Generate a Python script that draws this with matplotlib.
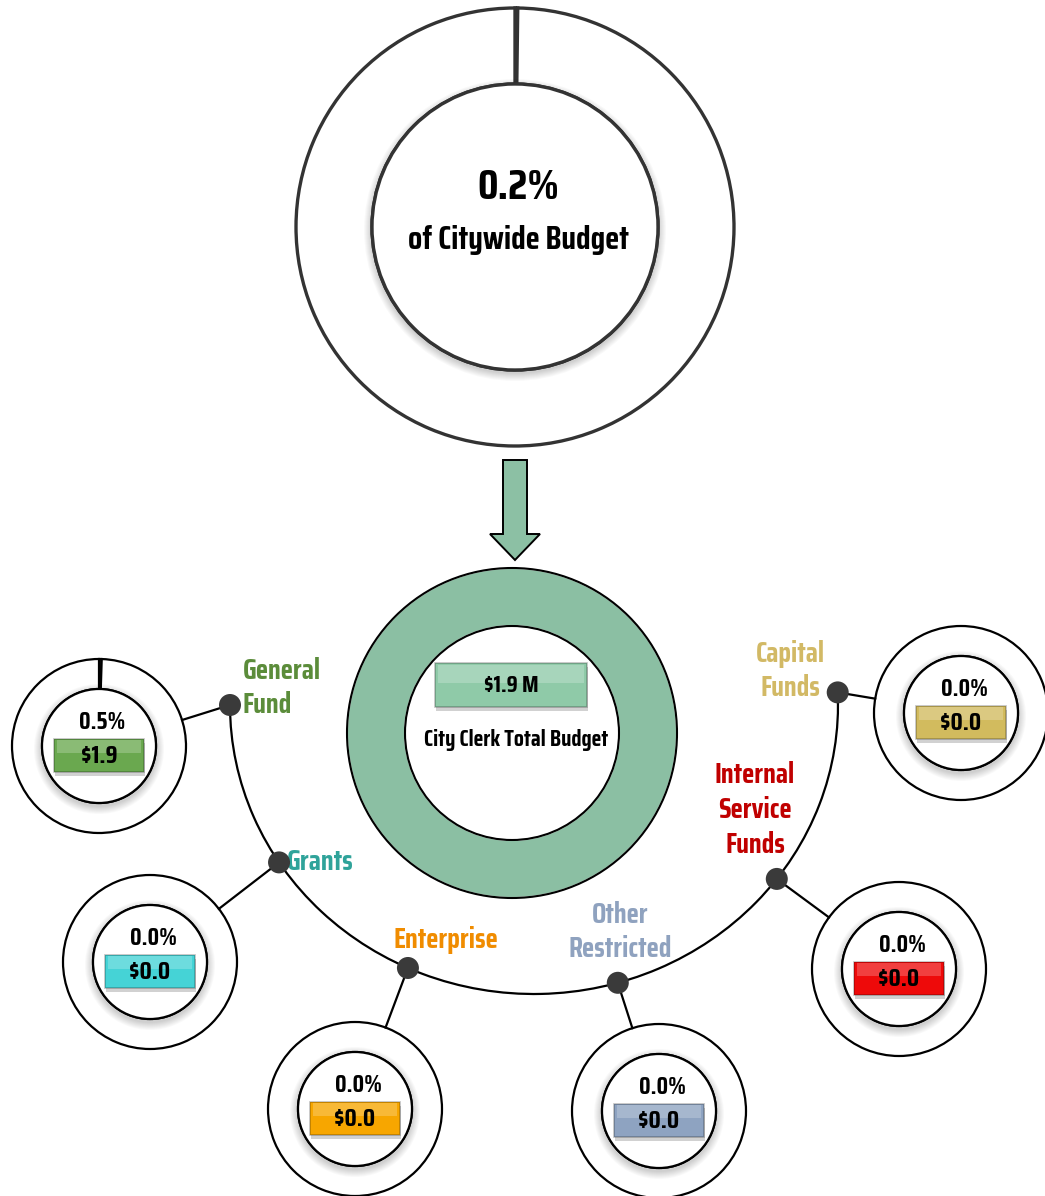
#!/usr/bin/env python3

import numpy as np
import matplotlib.pyplot as plt
from matplotlib.patches import Circle, Rectangle, FancyArrow, Arc

W, H = 1045, 1196
FONT = ['Saira Condensed', 'Oswald', 'DejaVu Sans']

# Data
city_share = 0.2          # % of citywide budget
dept_total = 1.9          # $M, City Clerk total budget
funds = ['General\nFund', 'Grants', 'Enterprise', 'Other\nRestricted',
         'Internal\nService\nFunds', 'Capital\nFunds']
fund_pct = [0.5, 0.0, 0.0, 0.0, 0.0, 0.0]
fund_amt = [1.9, 0.0, 0.0, 0.0, 0.0, 0.0]
box_colors = ['#6aa84f', '#45d3d6', '#f7a600', '#8ea3c1', '#ee0a0a', '#d2bb5e']
label_colors = ['#5b8c3a', '#2fa39a', '#f08c00', '#8fa2bf', '#c00000', '#d2b965']

# Layout (pixels, y measured from the top)
donut_xy = [(99, 746), (150, 962), (355, 1109), (659, 1111), (899, 969), (961, 713)]
dot_angle = [180, 213, 245.5, 286, 323, 362.5]
label_xy = [(243, 688, 'left'), (287, 862, 'left'), (446, 940, 'center'),
            (620, 932, 'center'), (755, 810, 'center'), (790, 671, 'center')]
arc_c, arc_a, arc_b = (534, 705), 304, 289


def Y(p):
    return H - p


fig = plt.figure(figsize=(W / 100, H / 100), dpi=100)
ax = fig.add_axes([0, 0, 1, 1])


def shadow(cx, cy, r, n=8):
    for k in range(n, 0, -1):
        ax.add_patch(Circle((cx, Y(cy) - 3), r + k, fc='#000000', ec='none',
                            alpha=0.025, zorder=3))


def donut(cx, cy, r_out, r_in, pct, lw=1.6, edge='black', slice_color='#333333'):
    ax.pie([pct, 100 - pct], center=(cx, Y(cy)), radius=r_out, startangle=90,
           counterclock=False, colors=[slice_color, 'white'],
           wedgeprops=dict(width=r_out - r_in, edgecolor=edge, linewidth=lw, zorder=2))
    shadow(cx, cy, r_in)
    ax.add_patch(Circle((cx, Y(cy)), r_in, fc='white', ec=edge, lw=lw, zorder=4))


def box(cx, cy, w, h, color, text, size):
    x0, y0 = cx - w / 2, Y(cy) - h / 2
    ax.add_patch(Rectangle((x0 + 1, y0 - 4), w, h, fc='#000000', alpha=0.18,
                           ec='none', zorder=5))
    ax.add_patch(Rectangle((x0, y0), w, h, fc=color, ec='#00000040', lw=1.2, zorder=6))
    ax.add_patch(Rectangle((x0 + 3, y0 + h * 0.55), w - 6, h * 0.4, fc='white',
                           alpha=0.22, ec='none', zorder=7))
    ax.text(cx, Y(cy) - 1, text, ha='center', va='center', fontsize=size,
            fontweight='bold', family=FONT, color='black', zorder=8)


# top donut: share of citywide budget
donut(515, 227, 219, 143, city_share, lw=2.4, edge='#333333')
ax.text(518, Y(187), f'{city_share:.1f}%', ha='center', va='center', fontsize=31,
        fontweight='bold', family=FONT, zorder=8)
ax.text(518, Y(240), 'of Citywide Budget', ha='center', va='center', fontsize=23.5,
        fontweight='bold', family=FONT, zorder=8)

# arrow
ax.add_patch(FancyArrow(515, Y(460), 0, -100, width=24, head_width=50, head_length=26,
                        length_includes_head=True, fc='#8cc0a4', ec='black', lw=1.4,
                        zorder=5))

# department donut
ax.pie([dept_total], center=(512, Y(733)), radius=165, startangle=90,
       colors=['#8bbfa3'], wedgeprops=dict(width=58, edgecolor='white', linewidth=1.5,
                                           zorder=2))
ax.add_patch(Circle((512, Y(733)), 165, fc='none', ec='black', lw=1.5, zorder=3))
ax.add_patch(Circle((512, Y(733)), 107, fc='white', ec='black', lw=1.5, zorder=4))
box(511, 685, 152, 44, '#8fcaa8', f'${dept_total:.1f} M', 17)
ax.text(516, Y(740), 'City Clerk Total Budget', ha='center', va='center', fontsize=16.5,
        fontweight='bold', family=FONT, zorder=8)

# connecting arc
ax.add_patch(Arc((arc_c[0], Y(arc_c[1])), 2 * arc_a, 2 * arc_b, theta1=180,
                 theta2=dot_angle[-1], lw=1.6, color='black', zorder=3))

for i, name in enumerate(funds):
    cx, cy = donut_xy[i]
    t = np.radians(dot_angle[i])
    dx = arc_c[0] + arc_a * np.cos(t)
    dy = arc_c[1] - arc_b * np.sin(t)

    # connector from dot to donut edge
    vx, vy = cx - dx, cy - dy
    d = np.hypot(vx, vy)
    ex, ey = dx + vx * (d - 87) / d, dy + vy * (d - 87) / d
    ax.plot([dx, ex], [Y(dy), Y(ey)], color='black', lw=1.6, zorder=3)
    ax.add_patch(Circle((dx, Y(dy)), 11, fc='#3a3a3a', ec='none', zorder=9))

    donut(cx, cy, 87, 57, fund_pct[i])
    ax.text(cx + 3, Y(cy - 24), f'{fund_pct[i]:.1f}%', ha='center', va='center',
            fontsize=17.5, fontweight='bold', family=FONT, zorder=8)
    box(cx, cy + 9, 90, 33, box_colors[i], f'${fund_amt[i]:.1f}', 18.5)

    lx, ly, ha = label_xy[i]
    ax.text(lx, Y(ly), name, ha=ha, va='center', fontsize=20.5, fontweight='bold',
            family=FONT, color=label_colors[i], linespacing=1.3, zorder=8)

ax.set_xlim(0, W)
ax.set_ylim(0, H)
ax.set_aspect('equal')
ax.axis('off')
fig.savefig('out.png', dpi=100, facecolor='white')
